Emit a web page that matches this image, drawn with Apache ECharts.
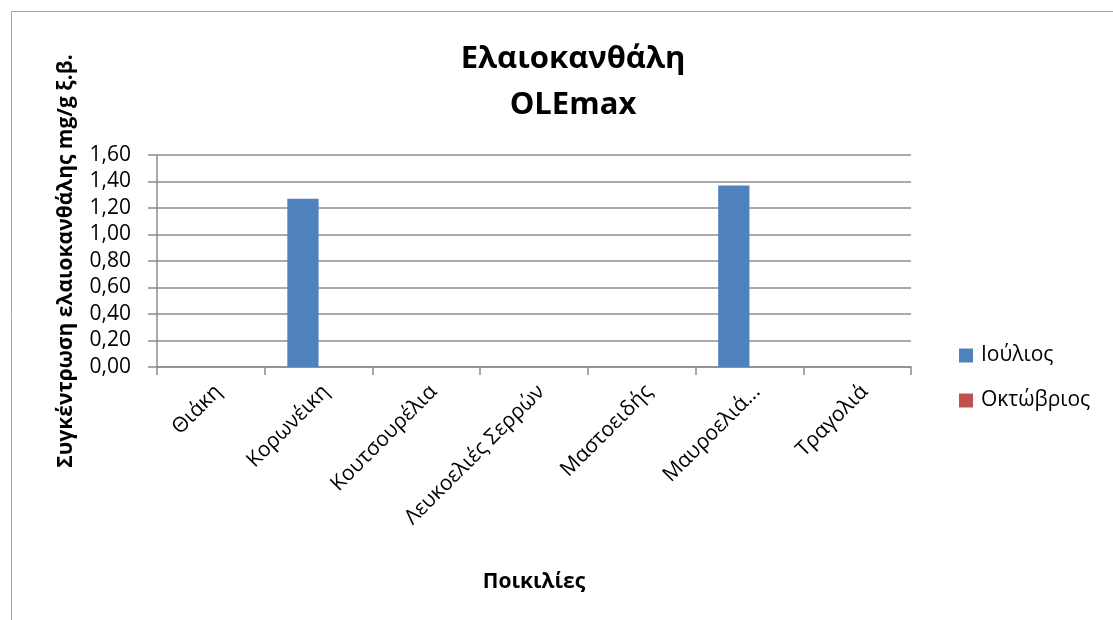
<!DOCTYPE html>
<html>
<head>
<meta charset="utf-8">
<script src="https://cdn.jsdelivr.net/npm/echarts@6/dist/echarts.min.js"></script>
<style>
  html, body { margin: 0; padding: 0; background: #fff; }
  #chart { width: 1113px; height: 620px; }
</style>
</head>
<body>
<div id="chart"></div>
<script>
// Olive varieties (x axis)
const categories = ['Θιάκη', 'Κορωνέικη', 'Κουτσουρέλια', 'Λευκοελιές Σερρών', 'Μαστοειδής', 'Μαυροελιά...', 'Τραγολιά'];
// Oleocanthal concentration, mg/g dry weight
const julyValues = [0, 1.27, 0, 0, 0, 1.37, 0];
const octoberValues = [0, 0, 0, 0, 0, 0, 0];
const seriesNames = ['Ιούλιος', 'Οκτώβριος'];
const yTicks = { min: 0, max: 1.6, interval: 0.2 };

const FONT = "'Open Sans', 'Noto Sans', sans-serif";

const chart = echarts.init(document.getElementById('chart'), null, { renderer: 'canvas' });
chart.setOption({
  backgroundColor: '#ffffff',
  animation: false,
  graphic: [{
    type: 'rect',
    shape: { x: 11.5, y: 11.5, width: 1200, height: 700 },
    style: { fill: 'none', stroke: '#a6a6a6', lineWidth: 1 },
    silent: true
  }],
  title: {
    text: 'Ελαιοκανθάλη\nOLEmax',
    left: 568, top: 31, textAlign: 'center',
    textStyle: { fontFamily: FONT, fontSize: 31, fontWeight: 'bold', color: '#000', lineHeight: 46 }
  },
  legend: {
    orient: 'vertical',
    left: 954, top: 340,
    itemWidth: 14, itemHeight: 14, itemGap: 24,
    icon: 'rect',
    textStyle: { fontFamily: FONT, fontSize: 21, color: '#000', padding: [0, 0, 0, 3] },
    data: seriesNames
  },
  grid: { left: 157, right: 202, top: 155, bottom: 253, containLabel: false },
  xAxis: {
    type: 'category',
    data: categories,
    name: 'Ποικιλίες',
    nameLocation: 'middle',
    nameGap: 205,
    nameTextStyle: { fontFamily: FONT, fontSize: 21, fontWeight: 'bold', color: '#000' },
    axisLine: { lineStyle: { color: '#8c8c8c', width: 1.5 } },
    axisTick: { show: true, alignWithLabel: false, length: 8, lineStyle: { color: '#8c8c8c', width: 1.5 } },
    axisLabel: { rotate: 45, fontFamily: FONT, fontSize: 21, color: '#000', margin: 14, interval: 0, verticalAlign: 'top' }
  },
  yAxis: {
    type: 'value',
    min: yTicks.min, max: yTicks.max, interval: yTicks.interval,
    name: 'Συγκέντρωση ελαιοκανθάλης mg/g ξ.β.',
    nameLocation: 'middle',
    nameGap: 80,
    nameTextStyle: { fontFamily: FONT, fontSize: 21, fontWeight: 'bold', color: '#000' },
    axisLine: { show: true, lineStyle: { color: '#8c8c8c', width: 1.5 } },
    axisTick: { show: true, length: 9, lineStyle: { color: '#8c8c8c', width: 1.5 } },
    splitLine: { lineStyle: { color: '#8c8c8c', width: 1.5 } },
    axisLabel: {
      fontFamily: FONT, fontSize: 21, color: '#000', margin: 26,
      formatter: v => v.toFixed(2).replace('.', ',')
    }
  },
  series: [
    { name: seriesNames[0], type: 'bar', data: julyValues, barGap: '0%', barCategoryGap: '42%',
      itemStyle: { color: '#4f81bd' } },
    { name: seriesNames[1], type: 'bar', data: octoberValues, barGap: '0%', barCategoryGap: '42%',
      itemStyle: { color: '#c0504d' } }
  ]
});
</script>
</body>
</html>
